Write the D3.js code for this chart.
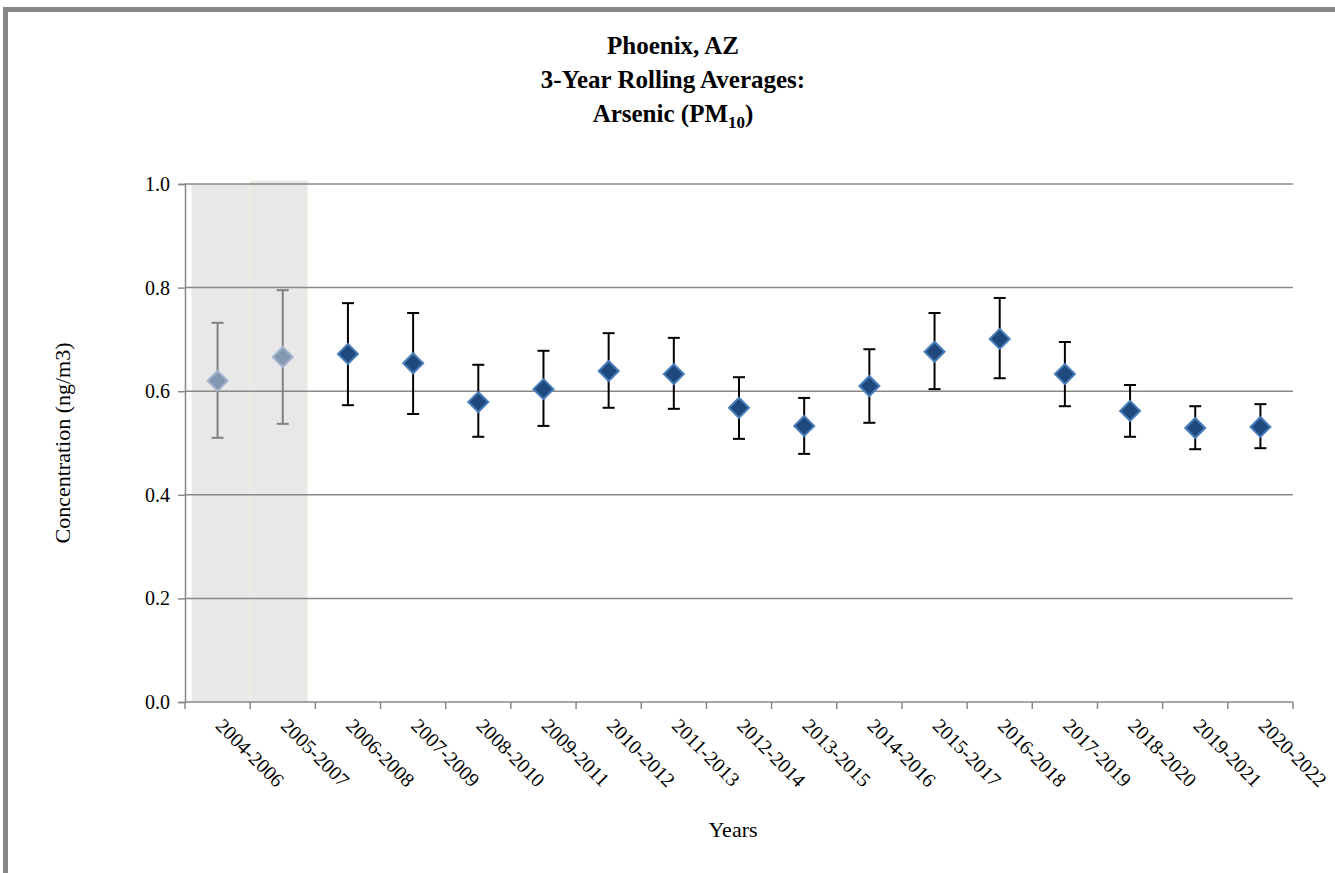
<!DOCTYPE html>
<html><head><meta charset="utf-8">
<script src="https://cdnjs.cloudflare.com/ajax/libs/d3/7.8.5/d3.min.js"></script>
<style>body{margin:0;background:#fff}svg{display:block}</style>
</head><body><svg width="1335" height="873" font-family="'Liberation Serif', 'Times New Roman', Times, serif"></svg>
<script>
var categories = ["2004-2006","2005-2007","2006-2008","2007-2009","2008-2010","2009-2011","2010-2012","2011-2013","2012-2014","2013-2015","2014-2016","2015-2017","2016-2018","2017-2019","2018-2020","2019-2021","2020-2022"];
var means = [0.620,0.666,0.672,0.654,0.579,0.604,0.639,0.633,0.568,0.533,0.610,0.676,0.701,0.633,0.562,0.529,0.531];
var upper = [0.732,0.795,0.770,0.751,0.651,0.678,0.712,0.703,0.627,0.587,0.681,0.751,0.780,0.695,0.612,0.571,0.575];
var lower = [0.510,0.537,0.573,0.556,0.512,0.533,0.568,0.566,0.508,0.479,0.539,0.604,0.625,0.571,0.512,0.488,0.490];
var shaded = ["2004-2006","2005-2007"];
var yTicks = [0,0.2,0.4,0.6,0.8,1.0];
var serif = "'Liberation Serif', 'Times New Roman', Times, serif";

var svg = d3.select("svg");
var pLeft = 185, pRight = 1293, pTop = 184, pBottom = 702;
svg.append("rect").attr("x",5.5).attr("y",9.5).attr("width",1340).attr("height",880)
  .attr("fill","none").attr("stroke","#888").attr("stroke-width",5);

var x = d3.scaleBand().domain(categories).range([pLeft,pRight]);
var y = d3.scaleLinear().domain([0,1]).range([pBottom,pTop]);

// shaded bands
svg.selectAll(".shade").data(shaded).enter().append("rect")
  .attr("x",function(d,i){return i==0 ? x(d)+7 : x(d);})
  .attr("width",function(d,i){return i==0 ? x.bandwidth()-7 : x.bandwidth()-8;})
  .attr("y",function(d,i){return i==0 ? pTop : pTop-3;}).attr("height",function(d,i){return pBottom-pTop+(i==0?0:3);})
  .attr("fill","#e8e8e8").attr("stroke","#f2f0dc").attr("stroke-width",1);

// gridlines
svg.append("g").selectAll("line").data(yTicks.slice(1)).enter().append("line")
  .attr("x1",pLeft).attr("x2",pRight).attr("y1",function(d){return y(d);}).attr("y2",function(d){return y(d);})
  .attr("stroke","#888").attr("stroke-width",1.5);

var ya = svg.append("g").attr("transform","translate("+pLeft+",0)")
  .call(d3.axisLeft(y).tickValues(yTicks).tickFormat(d3.format(".1f")).tickSize(7).tickPadding(8));
ya.attr("font-family",serif);
ya.select(".domain").attr("stroke","#888").attr("stroke-width",1.5);
ya.selectAll(".tick line").attr("stroke","#888").attr("stroke-width",1.5);
ya.selectAll("text").attr("font-size",20).attr("fill","#000");

var xa = svg.append("g").attr("transform","translate(0,"+pBottom+")");
xa.append("line").attr("x1",pLeft).attr("x2",pRight).attr("stroke","#888").attr("stroke-width",1.5);
xa.selectAll(".tk").data(categories.concat(["end"])).enter().append("line")
  .attr("x1",function(d,i){return pLeft+i*x.bandwidth();}).attr("x2",function(d,i){return pLeft+i*x.bandwidth();})
  .attr("y1",0).attr("y2",7).attr("stroke","#888").attr("stroke-width",1.5);
xa.selectAll(".lbl").data(categories).enter().append("text")
  .attr("transform",function(d){return "translate("+(x(d)+x.bandwidth()/2-3)+",25) rotate(45)";})
  .attr("font-size",20).text(function(d){return d;});

var isShaded = function(d){return shaded.indexOf(d)>=0;};
var pts = svg.append("g").selectAll("g").data(categories).enter().append("g")
  .attr("transform",function(d){return "translate("+(x(d)+x.bandwidth()/2)+",0)";});
pts.append("line").attr("y1",function(d,i){return y(upper[i]);}).attr("y2",function(d,i){return y(lower[i]);})
  .attr("stroke",function(d){return isShaded(d)?"#808080":"#000";}).attr("stroke-width",2);
[upper,lower].forEach(function(arr){
  pts.append("line").attr("x1",-6).attr("x2",6)
    .attr("y1",function(d,i){return y(arr[i]);}).attr("y2",function(d,i){return y(arr[i]);})
    .attr("stroke",function(d){return isShaded(d)?"#808080":"#000";}).attr("stroke-width",2);
});
pts.append("path").attr("d","M0,-10L10,0L0,10L-10,0Z")
  .attr("transform",function(d,i){return "translate(0,"+y(means[i])+")";})
  .attr("fill",function(d){return isShaded(d)?"#8497b0":"#1f497d";})
  .attr("stroke",function(d){return isShaded(d)?"#a3b5cf":"#4a7ebb";}).attr("stroke-width",2);

var t = svg.append("g").attr("text-anchor","middle").attr("font-weight","bold").attr("font-size",25);
t.append("text").attr("x",673).attr("y",54).text("Phoenix, AZ");
t.append("text").attr("x",673).attr("y",88).text("3-Year Rolling Averages:");
var t3 = t.append("text").attr("x",673).attr("y",122);
t3.append("tspan").text("Arsenic (PM");
t3.append("tspan").attr("font-size",17).attr("dy",6).text("10");
t3.append("tspan").attr("dy",-6).text(")");

svg.append("text").attr("transform","translate(70,443) rotate(-90)").attr("text-anchor","middle")
  .attr("font-size",22).text("Concentration (ng/m3)");
svg.append("text").attr("x",733).attr("y",837).attr("text-anchor","middle").attr("font-size",22).text("Years");
</script></body></html>
